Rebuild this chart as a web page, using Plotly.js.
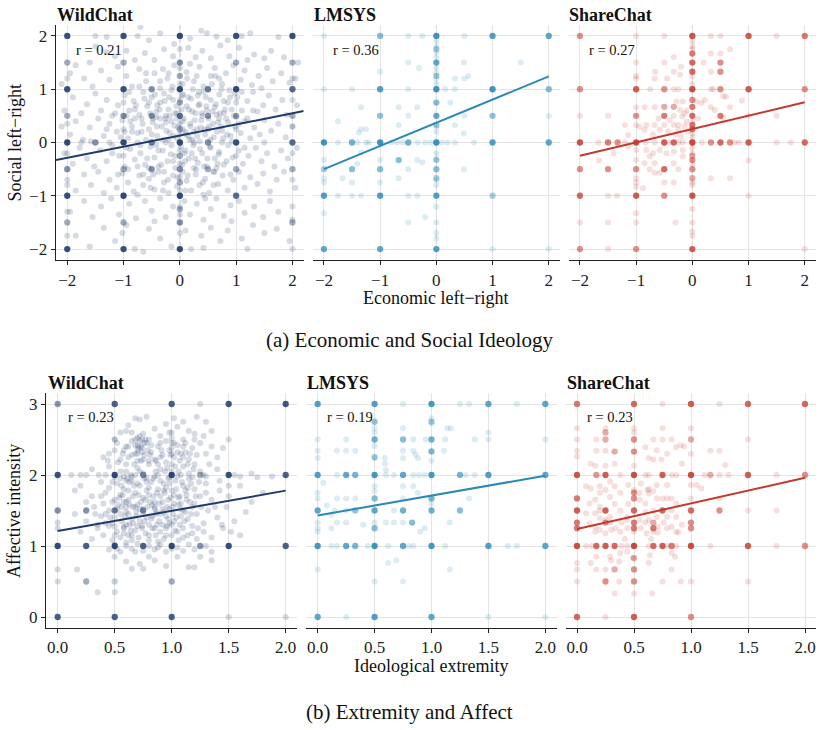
<!DOCTYPE html>
<html><head><meta charset="utf-8">
<script src="https://cdn.plot.ly/plotly-3.0.1.min.js"></script>
<style>html,body{margin:0;padding:0;background:#fff}#chart{width:823px;height:730px}</style>
</head><body><div id="chart"></div>
<script>
// ---------- DATA ----------
const panels = ["WildChat", "LMSYS", "ShareChat"];
const colors = ["#1f3b6b", "#2a89b6", "#c4392d"];
const rTop = ["r = 0.21", "r = 0.36", "r = 0.27"];
const rBot = ["r = 0.23", "r = 0.19", "r = 0.23"];
const topTicks = [-2, -1, 0, 1, 2];
const botXTicks = [0, 0.5, 1, 1.5, 2];
const botXText = ["0.0", "0.5", "1.0", "1.5", "2.0"];
const botYTicks = [0, 1, 2, 3];

// regression line endpoints
const regTopX = [[-2.2, 2.2], [-2, 2], [-2, 2]];
const regTopY = [[-0.33, 0.59], [-0.50, 1.24], [-0.25, 0.755]];
const regBotX = [[0, 2], [0, 2], [0, 2]];
const regBotY = [[1.21, 1.78], [1.43, 1.99], [1.24, 1.96]];

// WildChat: economic (x) vs social (y), individual points
const wcTopPts = [
[-1.5,2.0],[-1.3,1.98],[-0.75,2.0],[-0.7,2.17],[-0.55,1.92],[-0.35,2.05],[-0.1,1.85],[0.18,1.95],[0.38,2.1],[0.48,2.05],[0.65,1.99],[0.85,1.92],[1.1,2.0],[1.25,2.05],[1.75,1.98],
[-1.85,1.45],[-1.6,1.5],[-1.5,1.8],[-1.3,1.7],[-1.15,1.62],[-0.95,1.72],[-0.8,1.55],[-0.62,1.68],[-0.45,1.55],[-0.28,1.75],[-0.12,1.62],[0.15,1.78],[0.28,1.6],[0.4,1.72],[0.55,1.58],[0.72,1.82],[0.88,1.62],[1.05,1.78],[1.2,1.55],[1.32,1.65],[1.5,1.58],[1.62,1.72],[1.85,1.6],[2.1,1.5],
[-2.1,1.1],[-1.95,1.3],[-1.7,1.2],[-1.55,1.05],[-1.4,1.35],[-1.25,1.18],[-1.1,1.42],[-0.95,1.25],[-0.85,1.05],[-0.72,1.38],[-0.6,1.15],[-0.45,1.3],[-0.35,1.02],[-0.22,1.2],[-0.1,1.45],[0.05,1.1],[0.12,1.32],[0.25,1.15],[0.35,1.42],[0.42,1.05],[0.55,1.25],[0.62,1.4],[0.75,1.1],[0.82,1.3],[0.95,1.45],[1.08,1.18],[1.15,1.35],[1.28,1.08],[1.4,1.25],[1.55,1.4],[1.65,1.15],[1.8,1.3],[1.95,1.12],[2.05,1.2],[1.45,1.02],[-0.3,1.38],[0.18,1.48],[0.7,1.2],
[-2.05,0.6],[-1.9,0.85],[-1.75,0.55],[-1.65,0.72],[-1.5,0.92],[-1.4,0.6],[-1.3,0.8],[-1.2,0.5],[-1.1,0.7],[-0.98,0.88],[-0.9,0.6],[-0.82,0.78],[-0.72,0.52],[-0.65,0.95],[-0.58,0.68],[-0.5,0.85],[-0.42,0.58],[-0.35,0.75],[-0.28,0.92],[-0.2,0.62],[-0.12,0.8],[-0.05,0.55],[0.06,0.9],[0.12,0.68],[0.2,0.82],[0.28,0.55],[0.35,0.72],[0.42,0.95],[0.48,0.6],[0.55,0.8],[0.62,0.66],[0.7,0.9],[0.78,0.55],[0.85,0.75],[0.92,0.62],[1.02,0.85],[1.1,0.6],[1.2,0.78],[1.3,0.95],[1.38,0.58],[1.48,0.7],[1.58,0.88],[1.7,0.62],[1.82,0.8],[1.9,0.52],[2.08,0.7],[-0.15,0.98],[0.32,0.88],[0.88,0.98],[-0.8,0.62],[-0.25,0.5],[0.65,0.52],
[-2.1,0.3],[-1.95,0.15],[-1.85,0.4],[-1.72,0.05],[-1.6,0.28],[-1.45,0.45],[-1.35,0.12],[-1.25,0.35],[-1.12,0.2],[-1.02,0.42],[-0.92,0.08],[-0.85,0.3],[-0.75,0.18],[-0.68,0.45],[-0.6,0.05],[-0.55,0.25],[-0.48,0.38],[-0.4,0.12],[-0.32,0.3],[-0.25,0.45],[-0.18,0.18],[-0.1,0.32],[-0.05,0.08],[0.05,0.4],[0.1,0.2],[0.18,0.35],[0.22,0.05],[0.3,0.25],[0.38,0.42],[0.45,0.15],[0.52,0.3],[0.6,0.1],[0.68,0.38],[0.75,0.22],[0.82,0.45],[0.9,0.12],[0.98,0.3],[1.08,0.18],[1.15,0.4],[1.25,0.08],[1.32,0.28],[1.42,0.15],[1.5,0.42],[1.62,0.22],[1.75,0.35],[1.88,0.1],[2.0,0.3],[-1.58,0.02],[-0.42,0.48],[0.35,0.02],[1.0,0.48],[-0.8,0.45],[0.15,0.12],[-0.2,0.05],
[-2.05,-0.2],[-1.9,-0.4],[-1.78,-0.1],[-1.65,-0.3],[-1.52,-0.45],[-1.42,-0.15],[-1.3,-0.35],[-1.2,-0.05],[-1.08,-0.25],[-0.98,-0.45],[-0.88,-0.12],[-0.8,-0.32],[-0.7,-0.2],[-0.62,-0.42],[-0.52,-0.08],[-0.45,-0.28],[-0.38,-0.45],[-0.3,-0.15],[-0.22,-0.35],[-0.15,-0.05],[-0.08,-0.25],[0.04,-0.42],[0.1,-0.15],[0.16,-0.3],[0.24,-0.05],[0.32,-0.38],[0.4,-0.2],[0.48,-0.45],[0.55,-0.1],[0.62,-0.3],[0.7,-0.18],[0.78,-0.42],[0.86,-0.05],[0.94,-0.28],[1.05,-0.15],[1.12,-0.4],[1.22,-0.25],[1.35,-0.1],[1.45,-0.35],[1.55,-0.2],[1.68,-0.45],[1.8,-0.15],[1.92,-0.3],[2.08,-0.1],[-0.95,-0.1],[0.25,-0.48],[-0.55,-0.48],[0.65,-0.48],
[-2.0,-0.7],[-1.85,-0.9],[-1.7,-0.6],[-1.58,-0.8],[-1.45,-0.55],[-1.35,-0.95],[-1.25,-0.7],[-1.12,-0.85],[-1.02,-0.58],[-0.92,-0.75],[-0.82,-0.92],[-0.72,-0.62],[-0.65,-0.8],[-0.55,-0.68],[-0.45,-0.88],[-0.38,-0.55],[-0.28,-0.75],[-0.2,-0.95],[-0.12,-0.62],[-0.05,-0.82],[0.05,-0.55],[0.12,-0.72],[0.2,-0.9],[0.28,-0.6],[0.35,-0.8],[0.45,-0.68],[0.52,-0.95],[0.6,-0.55],[0.68,-0.78],[0.76,-0.62],[0.85,-0.9],[0.95,-0.7],[1.05,-0.55],[1.15,-0.85],[1.25,-0.65],[1.38,-0.78],[1.48,-0.58],[1.6,-0.92],[1.72,-0.7],[1.85,-0.55],[2.05,-0.85],[-0.75,-0.98],[0.42,-0.98],
[-1.95,-1.3],[-1.7,-1.1],[-1.55,-1.4],[-1.4,-1.2],[-1.22,-1.05],[-1.08,-1.35],[-0.9,-1.15],[-0.78,-1.42],[-0.62,-1.1],[-0.5,-1.28],[-0.35,-1.05],[-0.25,-1.4],[-0.12,-1.2],[0.08,-1.1],[0.18,-1.35],[0.3,-1.15],[0.42,-1.45],[0.55,-1.25],[0.65,-1.05],[0.78,-1.38],[0.9,-1.18],[1.05,-1.1],[1.15,-1.32],[1.32,-1.2],[1.48,-1.4],[1.6,-1.1],[1.75,-1.3],[2.0,-1.45],[-0.45,-1.48],[0.92,-1.48],
[-1.85,-1.75],[-1.6,-1.95],[-1.35,-1.6],[-1.15,-1.85],[-1.02,-1.7],[-0.8,-2.0],[-0.65,-2.05],[-0.55,-1.62],[-0.35,-1.8],[-0.15,-1.95],[0.1,-1.65],[0.2,-2.0],[0.38,-1.75],[0.55,-1.6],[0.72,-1.85],[0.85,-1.65],[1.1,-1.8],[1.3,-1.55],[1.5,-1.7],[1.72,-1.62],[1.95,-1.85],[0.42,-1.98],[-0.95,-1.55],[1.2,-2.0],
[0,1.75],[0,1.4],[0,1.1],[0,0.8],[0,0.35],[0,0.15],[0,-0.15],[0,-0.4],[0,-0.65],[0,-0.9],[0,-1.2],[0,-1.35],[0,-1.7],[-1,0.25],[-1,-0.25],[-1,0.75],[1,0.25],[1,-0.25],[1,0.75],[-1.25,0],[-0.75,0],[-0.25,0],[0.25,0],[0.75,0],[1.5,0],[-1.75,0],[2,1.2],[2,0.8],[2,0.3],[2,-0.2],[2,-0.7],[2,-1.2],[2,-2],[-2,1.2],[-2,0.35],[-2,-0.2],[-2,-0.8],[-2,-1.3],[-2,-1.75],
[-0.9,0.95],[-0.85,0.2],[-0.78,0.7],[-0.7,-0.05],[-0.66,0.35],[-0.63,0.82],[-0.58,-0.3],[-0.53,0.55],[-0.5,0.15],[-0.47,-0.6],[-0.44,0.9],[-0.41,0.3],[-0.38,-0.15],[-0.36,0.62],[-0.33,-0.42],[-0.3,0.05],[-0.27,0.78],[-0.24,0.22],[-0.21,-0.7],[-0.18,0.5],[-0.16,-0.22],[-0.13,1.05],[-0.11,0.12],[-0.08,-0.48],[-0.06,0.68],[-0.03,0.28],[0.02,-0.08],[0.04,0.88],[0.07,0.45],[0.09,-0.35],[0.11,0.15],[0.14,-0.62],[0.16,0.62],[0.19,0.3],[0.21,-0.2],[0.23,1.0],[0.26,0.42],[0.29,-0.5],[0.31,0.12],[0.33,0.7],[0.36,-0.12],[0.39,0.55],[0.41,-0.75],[0.44,0.25],[0.46,0.85],[0.49,-0.3],[0.51,0.45],[0.54,0.05],[0.57,1.1],[0.59,0.35],[0.61,-0.55],[0.64,0.72],[0.66,0.2],[0.69,-0.22],[0.71,0.55],[0.74,1.0],[0.77,0.08],[0.8,0.62],[0.83,-0.35],[0.86,0.38],[0.89,0.85],[0.93,0.02],[0.96,0.5],[-0.95,0.5],[-0.92,-0.5],[-0.88,0.4],[-0.75,-0.45],[-0.72,1.05],[-0.68,0.2],[-0.55,0.75],[-0.52,-0.85],[-0.48,0.45],[-0.42,-0.05],[-0.35,1.15],[-0.28,-0.55],[-0.25,0.38],[-0.19,0.85],[-0.12,-0.35],[-0.09,0.55],[-0.04,-0.65],[0.03,0.62],[0.08,-0.2],[0.13,1.2],[0.17,0.05],[0.22,0.58],[0.27,-0.3],[0.34,0.95],[0.37,0.28],[0.43,-0.45],[0.47,0.68],[0.53,-0.08],[0.58,0.58],[0.63,1.25],[0.67,-0.4],[0.73,0.3],[0.78,0.78],[0.84,0.15],[0.9,-0.6],[0.97,0.92],[-1.15,0.55],[-1.2,-0.2],[-1.3,0.25],[-1.1,-0.6],[-1.05,0.1],[1.05,0.35],[1.1,0.95],[1.15,-0.1],[1.2,0.45],[1.3,0.6],[-0.6,1.3],[-0.2,1.3],[0.3,1.25],[0.45,-1.05],[-0.3,-0.9],[0.1,-0.9],[-0.65,-0.6],[0.6,-0.8],[-0.98,0.2],[0.15,0.85],[-0.4,0.7],[0.5,0.25],[-0.15,0.4],[0.25,0.2],[-0.35,0.45],[0.05,0.25],[0.4,0.5],[-0.05,0.45],[0.7,0.45]
];
// WildChat: overlapping integer-valued points [x, y, count]
const wcTopGrid = [
[-2,2,8],[-1,2,8],[0,2,10],[1,2,8],[2,2,8],[-2,1,8],[-1,1,8],[0,1,10],[1,1,10],[2,1,5],
[-2,0,10],[-1,0,10],[0,0,12],[1,0,8],[2,0,5],[-2,-1,8],[-1,-1,10],[0,-1,10],[1,-1,5],
[-2,-2,8],[-1,-2,8],[0,-2,10],[0,0.5,5],[-0.5,0,4],[0.5,1,4],[-0.5,1,3],[-1,0.5,3],
[0,-1.5,3],[0,1.5,3],[0,-0.5,3],[0,0.25,2],[0,-0.25,2],[0.5,0,3],[-1.5,0,3],[1,0.5,2],
[1,-0.5,2],[2,0.5,2],[2,-0.5,2],[-2,0.5,2],[-2,-0.5,3],[-2,1.5,2],[-2,-1.5,2],[2,-1.5,2],
[2,1.5,2],[0,1.25,2],[0,0.75,2],[0,-0.75,2],[0,-1.25,2],[-1,-0.5,2],[-1,1.5,2],[-1,-1.5,2],
[1,1.5,2],[0.5,0.5,3],[-0.5,-0.5,3],[0.5,-0.5,2],[-0.5,0.5,3]
];

// LMSYS: economic vs social
const lmTopPts = [
[-0.5,2],[-0.25,2],[0.5,2],[1.5,1.5],[-0.5,1.5],[-0.31,1.4],[0.49,1.5],[-1.0,1.33],[0.33,1.2],[0.5,1.2],[0.57,1.25],
[-1.5,1.0],[-0.5,1.0],[0.16,1.0],[0.33,1.0],[-1.34,0.66],[-0.67,0.66],[-0.34,0.66],[0.25,0.75],[-1.75,0.4],[-1.0,0.5],
[-0.5,0.5],[0.5,0.5],[-0.67,0.33],[0.33,0.33],[-1.34,0.25],[-1.25,0.25],[-1.38,0.19],[0.49,0.17],[1.0,0.5],[2,0.5],
[-2,-0.33],[-1.67,-0.67],[-1.41,-0.4],[-1.5,-0.75],[-1.34,-0.19],[-1,-0.33],[-1,-0.75],[-0.67,-0.67],[-0.5,-0.5],
[-0.34,-0.33],[-0.25,-0.37],[0.49,-0.5],[-2,-0.67],[-2,-0.75],[-1.75,-1.0],[-1.5,-1],[-1.34,-1],[-0.5,-1],[-0.34,-1],
[-2,-1.33],[-0.5,-1.5],[-0.2,-1.4],[1,-2],[2,-2],[-2,2],[-2,1],
[-1.75,0],[-1.4,0],[-1.25,0],[-1.2,0],[-0.8,0],[-0.7,0],[-0.6,0],[-0.33,0],[-0.2,0],[-0.1,0],[0.1,0],[0.2,0],[0.33,0],[0.67,0],
[0,1.9],[0,1.8],[0,1.7],[0,1.6],[0,1.4],[0,1.3],[0,1.2],[0,1.1],[0,0.3],[0,0.2],[0,-0.2],[0,-0.3],[0,-0.7],[0,-0.8],[0,-1.2],[0,-1.5],[0,-1.7],[0,-1.8]
];
const lmTopGrid = [
[0,2,8],[1,2,6],[2,2,5],[-1,2,3],[-1,1,6],[0,1,8],[1,1,8],[2,1,3],[-2,0,8],[-1.5,0,4],[-1,0,8],[-0.5,0,4],
[0,0,10],[1,0,6],[2,0,5],[-2,-1,6],[-1,-1,6],[0,-1,6],[1,-1,2],[-2,-2,5],[-1,-2,5],[0,-2,6],[0,1.5,5],[0,0.5,5],
[0,0.75,3],[0,-0.5,3],[-1,-0.5,3],[-1.5,-0.5,3],[-0.67,-0.33,3],[-1,0.5,2],[1,0.5,2],[0,1.25,2],[0,1.75,2],
[0,-0.33,2],[0,0.33,2],[0,-0.67,2],[-2,-0.5,2]
];

// ShareChat: economic vs social
const scTopPts = [
[-1,2],[-0.5,2],[0.33,2],[0.5,2],[1.5,2],[-1,1.5],[-1,1.2],[-0.5,1.5],[-0.33,1.6],[-0.66,1.33],[-0.67,1.2],[-0.45,1.2],
[-0.33,1.33],[-0.2,1.42],[-0.22,1.27],[0.2,1.5],[0.33,1.67],[0.5,1.67],[0.67,1.75],[0.33,1.33],[-0.75,1.0],[-0.33,1.0],
[-0.25,1.0],[0.33,1.0],[0.37,1],[0.55,0.87],[0.6,0.86],[0.88,0.79],[0.22,0.8],[0.16,0.74],[0.07,0.77],[0.33,0.66],
[0.4,0.61],[0.67,0.66],[0.55,0.46],[1.5,0.5],[1,0.5],[-2,0.5],[-1.5,0.5],[-1,0.66],[-0.85,0.66],[-0.67,0.66],[-0.28,0.77],
[-0.17,0.77],[-0.22,0.61],[-0.14,0.55],[-0.33,0.5],[-0.18,0.49],[-0.1,0.39],[-0.25,0.33],[-0.33,0.33],[-0.5,0.33],
[-0.67,0.33],[-0.82,0.33],[-0.94,0.29],[-1.2,0.33],[-1.14,0.14],[-1,0.33],[-0.85,0.24],[-0.58,0.24],[-0.43,0.21],
[-0.25,0.24],[-0.14,0.3],[-0.08,0.21],[-0.2,0.11],[-0.6,0.45],[-0.4,0.42],[-0.7,0.15],[-0.3,0.15],
[-1,-0.14],[-0.82,-0.14],[-0.7,-0.2],[-0.58,-0.14],[-0.46,-0.2],[-0.33,-0.17],[-0.17,-0.14],[-1.14,-0.07],[-1.4,-0.2],
[-1.66,-0.34],[-1,-0.67],[-1,-0.75],[-0.85,-0.39],[-0.76,-0.26],[-0.67,-0.39],[-0.76,-0.5],[-0.67,-0.57],[-0.58,-0.57],
[-0.33,-0.39],[-0.5,-0.75],[-0.25,-0.5],[-0.17,-0.26],[-0.33,-0.75],[0.33,-0.67],[0.67,-0.67],[1,-0.34],[-0.88,-0.86],
[-1.5,-1],[-1.34,-1],[-1,-1.33],[-1,-1.5],[-1.5,-1.5],[-2,-1.5],[-0.3,-1.5],[-1.5,-2],[1,-1],[2,-2],[-0.1,0.6],[0.1,0.45],
[-1.67,0],[-1.2,0],[-0.83,0],[-0.67,0],[-0.4,0],[-0.25,0],[-0.17,0],[0.17,0],[0.75,0],[0.83,0],[1.5,0],[1.75,0],
[0,1.9],[0,1.8],[0,1.75],[0,1.25],[0,1.1],[0,0.4],[0,0.17],[0,0.1],[0,-0.1],[0,-0.2],[0,-0.4],[0,-0.75],[0,-0.8],[0,-1.25],[0,-1.5],[0,-1.67],[0,-1.75],
[-1,1.25],[-1,-0.33],[-1,-0.83]
];
const scTopGrid = [
[0,2,7],[1,2,6],[2,2,4],[-2,2,3],[-2,1,3],[-1,1,6],[0,1,8],[1,1,6],[2,1,3],[-2,0,7],[-1,0,8],[0,0,10],[1,0,6],
[2,0,5],[-2,-1,5],[-1,-1,6],[0,-1,7],[-2,-2,3],[-1,-2,3],[0,-2,6],[-0.5,0,6],[-0.33,0,5],[0.5,0,5],[-0.5,-0.5,5],
[-0.5,0.5,4],[0.5,0.5,4],[-1.5,0,4],[-1.33,0,3],[0.33,0,3],[0.67,0,3],[0,1.67,4],[0,1.5,5],[0,1.33,5],[0,0.67,4],
[0,0.5,5],[0,0.33,4],[0,0.25,4],[0,0.8,3],[0,-0.33,3],[0,-0.5,3],[0,-0.25,2],[0,-0.67,2],[-1,0.5,3],[-1,-0.5,3],
[-0.5,1,3],[0.5,1,3],[-2,-0.5,3],[-1.5,-0.5,3],[0.5,1.33,3],[0.5,1.5,3],[-0.5,-1,3],[-0.5,0.67,2],[-0.33,0.67,2]
];

// WildChat: extremity (x) vs affect (y)
const wcBotPts = [
[0.68,2.8],[0.72,2.78],[0.78,2.82],[1.1,2.75],[1.05,2.68],[0.95,2.72],[0.85,2.65],[0.98,2.6],[1.15,2.62],[1.3,2.75],[1.22,2.82],[0.55,2.6],[0.6,2.62],[0.65,2.6],[0.75,2.58],[0.9,2.55],[1.0,2.52],[1.2,2.58],[1.28,2.55],[1.35,2.62],[0.5,2.5],[0.7,2.52],[0.8,2.5],[1.1,2.5],[0.62,2.7],[1.02,2.8],
[0.45,2.3],[0.52,2.45],[0.58,2.35],[0.62,2.25],[0.68,2.42],[0.7,2.3],[0.72,2.48],[0.74,2.38],[0.76,2.28],[0.78,2.45],[0.82,2.32],[0.85,2.22],[0.88,2.4],[0.92,2.28],[0.95,2.48],[0.98,2.35],[1.02,2.25],[1.05,2.42],[1.08,2.3],[1.12,2.45],[1.15,2.22],[1.18,2.38],[1.22,2.28],[1.25,2.45],[1.3,2.3],[1.35,2.4],[0.55,2.22],[0.65,2.48],[0.8,2.2],[0.9,2.45],[1.0,2.38],[1.1,2.25],[1.2,2.5],[0.6,2.4],[0.75,2.22],[0.7,2.2],[0.5,2.35],[0.4,2.25],[1.4,2.25],[1.45,2.38],
[0.3,2.08],[0.45,2.12],[0.55,2.05],[0.6,2.15],[0.65,1.98],[0.7,2.1],[0.75,2.02],[0.8,2.15],[0.85,1.98],[0.9,2.08],[0.95,2.18],[1.0,2.05],[1.05,1.98],[1.1,2.12],[1.15,2.02],[1.2,2.15],[1.25,2.05],[1.3,1.98],[1.4,2.08],[1.55,2.0],[1.6,1.98],[1.7,2.02],[0.58,1.98],[0.68,2.0],[0.78,1.96],[0.88,2.0],[0.98,1.97],[1.08,2.0],[1.18,1.97],[1.28,2.0],[0.5,1.97],[0.42,2.0],[0.2,2.0],[1.88,1.98],[1.75,1.97],
[0.2,1.85],[0.3,1.7],[0.38,1.9],[0.42,1.75],[0.48,1.62],[0.52,1.88],[0.55,1.72],[0.58,1.8],[0.62,1.65],[0.65,1.92],[0.68,1.75],[0.72,1.85],[0.75,1.68],[0.78,1.78],[0.82,1.9],[0.85,1.62],[0.88,1.8],[0.9,1.7],[0.93,1.88],[0.97,1.65],[1.0,1.78],[1.03,1.92],[1.06,1.68],[1.1,1.85],[1.13,1.72],[1.16,1.62],[1.2,1.8],[1.25,1.7],[1.3,1.88],[1.35,1.65],[1.42,1.78],[1.5,1.7],[1.6,1.85],[1.7,1.62],[0.45,1.82],[0.6,1.62],[0.8,1.72],[0.95,1.82],[1.08,1.6],[0.25,1.62],[0.15,1.78],[1.8,1.75],
[0.15,1.45],[0.25,1.35],[0.32,1.55],[0.38,1.42],[0.42,1.32],[0.45,1.5],[0.5,1.4],[0.53,1.58],[0.56,1.35],[0.6,1.48],[0.63,1.3],[0.66,1.55],[0.69,1.42],[0.72,1.35],[0.75,1.52],[0.78,1.4],[0.8,1.3],[0.83,1.58],[0.86,1.45],[0.89,1.35],[0.92,1.52],[0.95,1.42],[0.98,1.32],[1.01,1.55],[1.04,1.4],[1.07,1.3],[1.1,1.5],[1.14,1.38],[1.18,1.55],[1.22,1.45],[1.28,1.32],[1.32,1.5],[1.4,1.4],[1.48,1.55],[1.55,1.35],[1.65,1.48],[0.55,1.45],[0.65,1.38],[0.85,1.52],[0.7,1.58],[0.48,1.32],[0.35,1.3],[0.6,1.55],[0.9,1.45],
[0.2,1.2],[0.3,1.1],[0.35,1.25],[0.4,1.15],[0.45,1.28],[0.48,1.08],[0.52,1.2],[0.55,1.12],[0.58,1.27],[0.62,1.15],[0.65,1.08],[0.68,1.22],[0.71,1.12],[0.74,1.28],[0.77,1.18],[0.8,1.08],[0.83,1.25],[0.86,1.15],[0.9,1.2],[0.93,1.1],[0.96,1.28],[1.0,1.15],[1.03,1.22],[1.06,1.08],[1.1,1.25],[1.14,1.15],[1.18,1.28],[1.22,1.1],[1.28,1.2],[1.35,1.12],[1.45,1.25],[1.6,1.15],[0.5,1.27],[0.6,1.05],[0.88,1.06],[0.58,1.18],
[0.45,0.95],[0.5,1.02],[0.55,0.92],[0.6,1.0],[0.65,0.96],[0.7,1.03],[0.75,0.93],[0.8,1.0],[0.85,0.95],[0.9,1.02],[0.95,0.92],[1.05,0.98],[1.1,0.93],[1.15,1.02],[1.2,0.95],[1.3,1.0],[1.35,0.92],[0.52,0.96],[0.68,0.92],[0.88,0.98],[1.0,0.96],
[0.5,0.85],[0.6,0.78],[0.65,0.68],[0.72,0.75],[0.8,0.85],[0.85,0.8],[0.95,0.72],[1.05,0.85],[1.15,0.7],[1.2,0.7],[1.25,0.85],[1.35,0.8],[0.35,0.35],[0.5,0.35],[0.75,0.68],[0.17,0.67],[0,0.67],[0,0.5],[0.12,2.0],[0.0,1.25],[0.0,1.33],[1.25,3],[0.0,3],[1.5,2.5],[0.5,2.5],[1.5,0],[2,0],[0.25,2],
[0.52,1.52],[0.54,1.68],[0.56,1.85],[0.57,2.3],[0.59,1.42],[0.61,1.95],[0.62,2.4],[0.63,1.58],[0.64,1.22],[0.66,1.7],[0.67,2.15],[0.69,1.48],[0.7,1.88],[0.71,2.38],[0.73,1.62],[0.74,1.25],[0.76,1.95],[0.77,2.5],[0.79,1.55],[0.8,1.82],[0.81,2.28],[0.83,1.42],[0.84,1.7],[0.86,2.05],[0.87,1.3],[0.89,1.6],[0.9,1.92],[0.91,2.35],[0.93,1.48],[0.94,1.75],[0.96,2.1],[0.97,1.38],[0.99,1.68],[1.0,2.0],[1.01,1.45],[1.02,2.45],[1.04,1.8],[1.05,1.2],[1.07,2.2],[1.08,1.52],[1.09,1.9],[1.11,1.35],[1.12,2.32],[1.13,1.65],[1.15,1.95],[1.17,1.45],[1.19,2.08],[1.21,1.7],[1.23,1.25],[0.6,1.3],[0.62,1.78],[0.65,2.28],[0.68,1.55],[0.72,2.05],[0.75,1.45],[0.78,1.9],[0.82,2.42],[0.85,1.55],[0.88,2.15],[0.92,1.62],[0.95,1.25],[0.98,1.88],[1.03,2.12],[1.06,1.58],[1.1,2.4],[1.14,1.82],[1.18,1.18],[0.55,1.95],[0.58,1.62],[0.6,2.05],[0.63,1.9],[0.66,1.32],[0.68,2.3],[0.71,1.72],[0.73,2.2],[0.76,1.35],[0.79,2.35],[0.81,1.62],[0.84,1.95],[0.87,1.48],[0.9,2.25],[0.93,1.78],[0.96,1.55],[0.99,2.28],[1.02,1.72],[1.05,2.32],[1.08,1.42],[1.12,1.78],[1.16,2.3],[1.2,1.6],[0.5,1.65],[0.53,2.18],[0.56,1.55],[0.48,1.9],[0.46,1.4],[0.44,2.2],[0.5,1.15],[0.65,1.15],[0.8,1.15],[0.95,1.15],[1.1,1.12],[0.7,1.28],[0.85,1.25],[1.0,1.3],[0.58,1.25],[0.62,1.45],[0.72,1.52],[0.82,1.38],[0.92,1.3],[1.02,1.35],[1.12,1.48],[0.57,1.72],[0.67,1.85],[0.77,1.65],[0.87,1.75],[0.97,1.95],[1.07,1.7],[1.17,1.88],[0.7,2.42],[0.74,2.32],[0.72,2.55],[0.76,2.45],[0.7,2.35],[0.74,2.5],[0.68,2.5],[0.73,2.4],[1.0,2.6],[1.0,2.45],[1.0,2.3],[1.0,2.15],[0.98,1.52],[1.02,1.6],[0.6,1.92],[0.64,2.0],[0.86,2.2],[0.94,2.05],[1.06,2.05],[1.14,2.15],[1.24,1.9],[1.26,1.55],[1.3,1.75],[1.33,2.15],[0.4,1.6],[0.42,1.45],[0.38,1.7],[0.36,2.0],[0.33,1.45],[1.38,1.55],[1.42,1.92],[1.44,1.3],[1.5,1.85],[1.52,1.2]
];
const wcBotGrid = [
[0,3,2],[0.5,3,6],[1,3,6],[1.5,3,7],[2,3,7],[0,2,8],[0.5,2,10],[1,2,10],[1.5,2,8],[2,2,6],[0,1,10],[0.25,1,6],
[0.5,1,10],[0.75,1,6],[1,1,10],[1.5,1,8],[2,1,6],[0,0,6],[0.5,0,6],[1,0,6],[0,1.5,3],[0.25,1.5,3],[0.5,1.5,4],
[0.75,1.5,3],[0.25,0.5,2],[1,0.5,2],[0.75,2,3],[1.25,1,3],[1.25,2,2],[0.5,0.5,1]
];

// LMSYS: extremity vs affect
const lmBotPts = [
[0.75,3],[1.25,3],[1.33,3],[1.75,3],[0.5,2.75],[0.5,2.66],[0.5,2.6],[0.75,2.66],[1.0,2.8],[1,2.73],[1.14,2.66],[1.17,2.66],
[0,2.5],[0.25,2.5],[0.84,2.5],[0.95,2.5],[1.12,2.5],[1.38,2.5],[1.5,2.5],[1.5,2.6],[2,2.5],[0,2.34],[0,2.24],[0.17,2.34],
[0.25,2.34],[0.33,2.34],[0.5,2.41],[0.5,2.24],[0.59,2.24],[0.59,2.16],[0.6,2.07],[0.75,2.24],[0.75,2.34],[0.84,2.34],
[0.86,2.29],[0.88,2.24],[1,2.34],[1,2.2],[1.11,2.34],[0.05,1.89],[0.17,2],[0.33,2],[0.6,2],[0.67,2],[0.84,2],[0.89,2],
[0.94,2],[1.25,2],[1.3,2],[1.38,2],[0.5,1.84],[0.5,1.77],[0.75,1.84],[0.84,1.84],[0.88,1.75],[0,1.75],[0,1.67],[0.17,1.67],
[0.25,1.67],[0.33,1.67],[0.75,1.67],[1,1.67],[1,1.6],[1.33,1.67],[0.08,1.57],[0.12,1.44],[0.15,1.5],[0.25,1.5],[0.33,1.5],
[0.67,1.5],[0,1.33],[0,1.25],[0,1.2],[0.17,1.33],[0.25,1.33],[0.4,1.3],[0.5,1.33],[0.6,1.33],[0.67,1.33],[0.75,1.33],
[0.9,1.2],[0.94,1.25],[1.16,1.33],[0.12,1.25],[0,0.67],[0.5,0.5],[0.62,0.76],[0.69,0.8],[0.75,0.5],[1.16,0.67],
[0.12,1],[0.17,1],[0.33,1],[0.44,1],[0.62,1],[0.8,1],[0.84,1],[1.12,1],[1.67,1],[1.75,1],[0.25,0],[1.5,0],[2,0]
];
const lmBotGrid = [
[0,3,6],[0.5,3,6],[1,3,7],[1.5,3,5],[2,3,5],[0,2,6],[0.25,2,5],[0.5,2,7],[0.75,2,5],[1,2,7],[1.5,2,6],[2,2,5],
[0,1,7],[0.25,1,5],[0.5,1,8],[0.75,1,5],[1,1,7],[1.5,1,6],[2,1,5],[0,0,5],[0.5,0,6],[1,0,5],[0,1.5,5],[0.5,1.5,5],
[0.75,1.5,4],[1,1.5,4],[1.25,1.5,3],[0.5,2.5,4],[1,2.5,4],[0.75,2.5,3],[1,2.33,3],[0.5,1.67,3],[1,1.67,3],
[0.5,1.25,3],[0.33,2,3],[0.33,1.5,2],[1.25,2,3],[0.83,1.33,3],[0.5,2.75,2],[1,2.75,2],[0.5,2.25,2],[0.33,1,3]
];

// ShareChat: extremity vs affect
const scBotPts = [
[0.75,3],[1.25,3],[0.25,2.66],[0,2.66],[0.5,2.66],[0.5,2.6],[0.75,2.66],[1,2.66],[0,2.5],[0.17,2.5],[0.67,2.5],[0.75,2.5],
[0.83,2.5],[1.5,2.5],[0.6,2.39],[0.87,2.39],[0.91,2.42],[0.94,2.4],[0,2.34],[0,2.26],[0.17,2.34],[0.25,2.34],[0.7,2.35],
[0.79,2.3],[0.92,2.16],[1,2.3],[1.17,2.34],[1.25,2.34],[0.63,2.24],[0.67,2.22],[0.74,2.22],[1.3,2.14],[0.12,2.16],[0.16,2.13],
[0.25,2.13],[0.33,2.16],[0.5,2.13],[0.17,2],[0.38,2],[0.6,2],[0.63,2],[0.83,2],[0.87,2],[1.12,2],[1.33,2],[1.75,2],
[0.08,1.84],[0.12,1.81],[0.2,1.84],[0.25,1.79],[0.29,1.91],[0.45,1.86],[0.5,1.79],[0.56,1.88],[0.63,1.8],[0.67,1.77],
[0.7,1.86],[0.79,1.86],[1,1.86],[1.05,1.86],[1.09,1.81],[0.11,1.6],[0.16,1.65],[0.2,1.75],[0.2,1.55],[0.29,1.69],[0.33,1.59],
[0.45,1.59],[0.55,1.75],[0.55,1.65],[0.62,1.79],[0.63,1.74],[0.7,1.67],[0.75,1.67],[0.79,1.67],[0.87,1.6],[0.83,1.67],
[1,1.67],[1.25,1.67],[0.08,1.46],[0.16,1.46],[0.2,1.5],[0.29,1.41],[0.44,1.41],[0.6,1.6],[0.6,1.48],[0.67,1.5],[0.7,1.41],
[0.79,1.41],[0.83,1.5],[0.87,1.41],[1.75,1.5],[0.11,1.32],[0.16,1.27],[0.2,1.39],[0.25,1.37],[0.29,1.33],[0.34,1.25],
[0.39,1.33],[0.44,1.37],[0.55,1.37],[0.6,1.33],[0.63,1.37],[0.71,1.27],[0.76,1.33],[0.79,1.25],[0.83,1.27],[0.87,1.2],
[0.92,1.3],[0.16,1.2],[0.2,1.23],[0.25,1.18],[0.3,1.23],[0.38,1.2],[0.44,1.25],[0.56,1.25],[0.61,1.18],[0.67,1.2],
[0.71,1.19],[0.89,1.19],[0.08,1],[0.13,1],[0.39,1],[0.44,1],[0.63,1],[0.79,1],[0.87,1],[1.17,1],[1.75,1],[0.38,0.9],
[0.44,0.92],[0.17,0.85],[0.29,0.85],[0.49,0.83],[0.64,0.87],[0.83,0.9],[0.86,0.85],[0,0.76],[0,0.67],[0.12,0.76],[0.17,0.67],
[0.25,0.67],[0.37,0.78],[0.3,0.8],[0.63,0.76],[0.83,0.67],[0,0.5],[0.37,0.5],[0.75,0.5],[0.91,0.5],[1,0.5],[1.5,0.5],
[0.33,0.33],[0.5,0.33],[0.66,0.33],[0.25,0],[1.5,1.5],[1.25,2],[0.38,1.75],[0.38,1.5],[0.33,1.84],[0.5,1.2],[0.42,1.1],[0.65,1.1]
];
const scBotGrid = [
[0,3,4],[0.5,3,5],[1,3,6],[1.5,3,5],[2,3,5],[0,2,7],[0.25,2,6],[0.5,2,8],[0.75,2,6],[1,2,8],[1.5,2,6],[2,2,3],
[0,1,8],[0.17,1,5],[0.25,1,6],[0.33,1,5],[0.5,1,9],[0.67,1,5],[0.75,1,6],[0.83,1,4],[1,1,8],[1.5,1,6],[2,1,3],
[0,0,5],[0.5,0,6],[1,0,3],[0,1.5,6],[0.25,1.5,6],[0.5,1.5,5],[0.75,1.5,5],[1,1.5,5],[1.25,1.5,3],[0,1.67,4],
[0,1.33,4],[0,1.25,4],[0.25,1.33,3],[0.5,1.33,4],[0.5,1.25,4],[0.67,1.25,4],[0.5,1.67,3],[0.5,1.75,3],[1,1.25,3],
[1,1.33,3],[0.5,2.5,3],[0.5,2.33,3],[0.25,2.5,2],[1,2.5,2],[0.25,2.6,2],[0.33,2.33,2],[0.5,0.67,3],[0.5,0.5,3],
[0.25,0.5,3],[0.5,0.83,2],[0.33,0.67,2],[0.17,2,2],[1.17,2,2],[0.67,1.33,2]
];

// ---------- BUILD ----------
const FONT = "Liberation Serif";
const W = 823, H = 730;
const px = v => v / W, py = v => 1 - v / H;
const topDom = [[56, 303.7], [312.7, 560], [568.7, 816]];
const botDom = [[46.3, 297.1], [306.3, 556.7], [565.6, 816.4]];
const topY = [25.3, 259.7], botY = [393.35, 627.65];

const ptsTop = [wcTopPts, lmTopPts, scTopPts];
const gridTop = [wcTopGrid, lmTopGrid, scTopGrid];
const ptsBot = [wcBotPts, lmBotPts, scBotPts];
const gridBot = [wcBotGrid, lmBotGrid, scBotGrid];
const baseAlpha = [0.19, 0.16, 0.16];
const gridAlpha = 0.24;

const traces = [];
function addPanel(idx, pts, grid, reg, col, a) {
  const xa = idx === 1 ? 'x' : 'x' + idx, ya = idx === 1 ? 'y' : 'y' + idx;
  traces.push({type: 'scatter', mode: 'markers', x: pts.map(p => p[0]), y: pts.map(p => p[1]),
    xaxis: xa, yaxis: ya, hoverinfo: 'skip', cliponaxis: true,
    marker: {size: 6, color: col, opacity: a, line: {width: 0}}});
  traces.push({type: 'scatter', mode: 'markers', x: grid.map(p => p[0]), y: grid.map(p => p[1]),
    xaxis: xa, yaxis: ya, hoverinfo: 'skip', cliponaxis: true,
    marker: {size: 6.3, color: col, opacity: grid.map(p => Math.min(0.92, 1 - Math.pow(1 - gridAlpha, p[2]))), line: {width: 0}}});
  traces.push({type: 'scatter', mode: 'lines', x: reg[0], y: reg[1], xaxis: xa, yaxis: ya,
    hoverinfo: 'skip', line: {color: col, width: 2}});
}
for (let i = 0; i < 3; i++) {
  addPanel(i + 1, ptsTop[i], gridTop[i], [regTopX[i], regTopY[i]], colors[i], baseAlpha[i]);
  addPanel(i + 4, ptsBot[i], gridBot[i], [regBotX[i], regBotY[i]], colors[i], baseAlpha[i]);
}

const tickFont = {family: FONT, size: 17, color: '#222'};
const layout = {
  width: W, height: H, margin: {l: 0, r: 0, t: 0, b: 0},
  paper_bgcolor: '#fff', plot_bgcolor: '#fff', showlegend: false,
  font: {family: FONT, color: '#111'}, shapes: [], annotations: []
};
for (let i = 1; i <= 6; i++) {
  const top = i <= 3;
  const d = top ? topDom[i - 1] : botDom[i - 4];
  const xk = i === 1 ? 'xaxis' : 'xaxis' + i, yk = i === 1 ? 'yaxis' : 'yaxis' + i;
  const ya = i === 1 ? 'y' : 'y' + i, xa = i === 1 ? 'x' : 'x' + i;
  layout[xk] = {
    domain: [px(d[0]), px(d[1])], anchor: ya,
    range: top ? [-2.2, 2.2] : [-0.1, 2.1],
    tickvals: top ? topTicks : botXTicks, ticktext: top ? topTicks.map(v => v < 0 ? '\u2212' + (-v) : String(v)) : botXText,
    showgrid: true, gridcolor: '#e4e4e4', gridwidth: 1, zeroline: false,
    showline: true, linecolor: '#222', linewidth: 1.4, ticks: 'outside', ticklen: 4, tickwidth: 1, tickcolor: '#222',
    tickfont: tickFont, fixedrange: true
  };
  const first = (i === 1 || i === 4);
  const yd = top ? topY : botY;
  layout[yk] = {
    domain: [py(yd[1]), py(yd[0])], anchor: xa,
    range: top ? [-2.2, 2.2] : [-0.15, 3.15],
    tickvals: top ? topTicks : botYTicks, ticktext: top ? topTicks.map(v => v < 0 ? '\u2212' + (-v) : String(v)) : botYTicks.map(String),
    showgrid: true, gridcolor: '#e4e4e4', gridwidth: 1, zeroline: false,
    showline: first, linecolor: '#222', linewidth: 1.4,
    ticks: first ? 'outside' : '', ticklen: 4, tickwidth: 1, tickcolor: '#222',
    showticklabels: first, tickfont: tickFont, fixedrange: true
  };
  if (top) {
    layout.shapes.push({type: 'line', xref: xa, yref: ya + ' domain', x0: 0, x1: 0, y0: 0, y1: 1,
      line: {color: '#9a9a9a', width: 1, dash: '4px,3px'}, layer: 'below'});
    layout.shapes.push({type: 'line', xref: xa + ' domain', yref: ya, x0: 0, x1: 1, y0: 0, y1: 0,
      line: {color: '#9a9a9a', width: 1, dash: '4px,3px'}, layer: 'below'});
  }
}
function ann(text, x, y, opts) {
  layout.annotations.push(Object.assign({text: text, xref: 'paper', yref: 'paper', x: px(x), y: py(y),
    showarrow: false, xanchor: 'left', yanchor: 'middle', font: {family: FONT, size: 14, color: '#111'}}, opts || {}));
}
const titleTopX = [56, 312.7, 568.3], titleBotX = [46.7, 306, 566];
const rTopX = [75, 331.7, 588.3], rBotX = [66.7, 326, 586];
for (let i = 0; i < 3; i++) {
  ann('<b>' + panels[i] + '</b>', titleTopX[i] - 1, 14.5, {font: {family: FONT, size: 18, color: '#111'}});
  ann('<b>' + panels[i] + '</b>', titleBotX[i] - 1, 382.5, {font: {family: FONT, size: 18, color: '#111'}});
  ann(rTop[i], rTopX[i] - 1, 49.5, {font: {family: FONT, size: 14.5, color: '#111'}});
  ann(rBot[i], rBotX[i] - 1, 417.5, {font: {family: FONT, size: 14.5, color: '#111'}});
}
ann('Social left\u2212right', 14, 142.5, {xanchor: 'center', textangle: -90, font: {family: FONT, size: 18, color: '#111'}});
ann('Affective intensity', 14, 511, {xanchor: 'center', textangle: -90, font: {family: FONT, size: 18, color: '#111'}});
ann('Economic left\u2212right', 435.7, 298, {xanchor: 'center', font: {family: FONT, size: 18, color: '#111'}});
ann('Ideological extremity', 431, 666, {xanchor: 'center', font: {family: FONT, size: 18, color: '#111'}});
ann('(a) Economic and Social Ideology', 409, 340, {xanchor: 'center', font: {family: FONT, size: 21, color: '#111'}});
ann('(b) Extremity and Affect', 409, 712, {xanchor: 'center', font: {family: FONT, size: 21, color: '#111'}});

Plotly.newPlot('chart', traces, layout, {displayModeBar: false, staticPlot: true});
</script></body></html>
